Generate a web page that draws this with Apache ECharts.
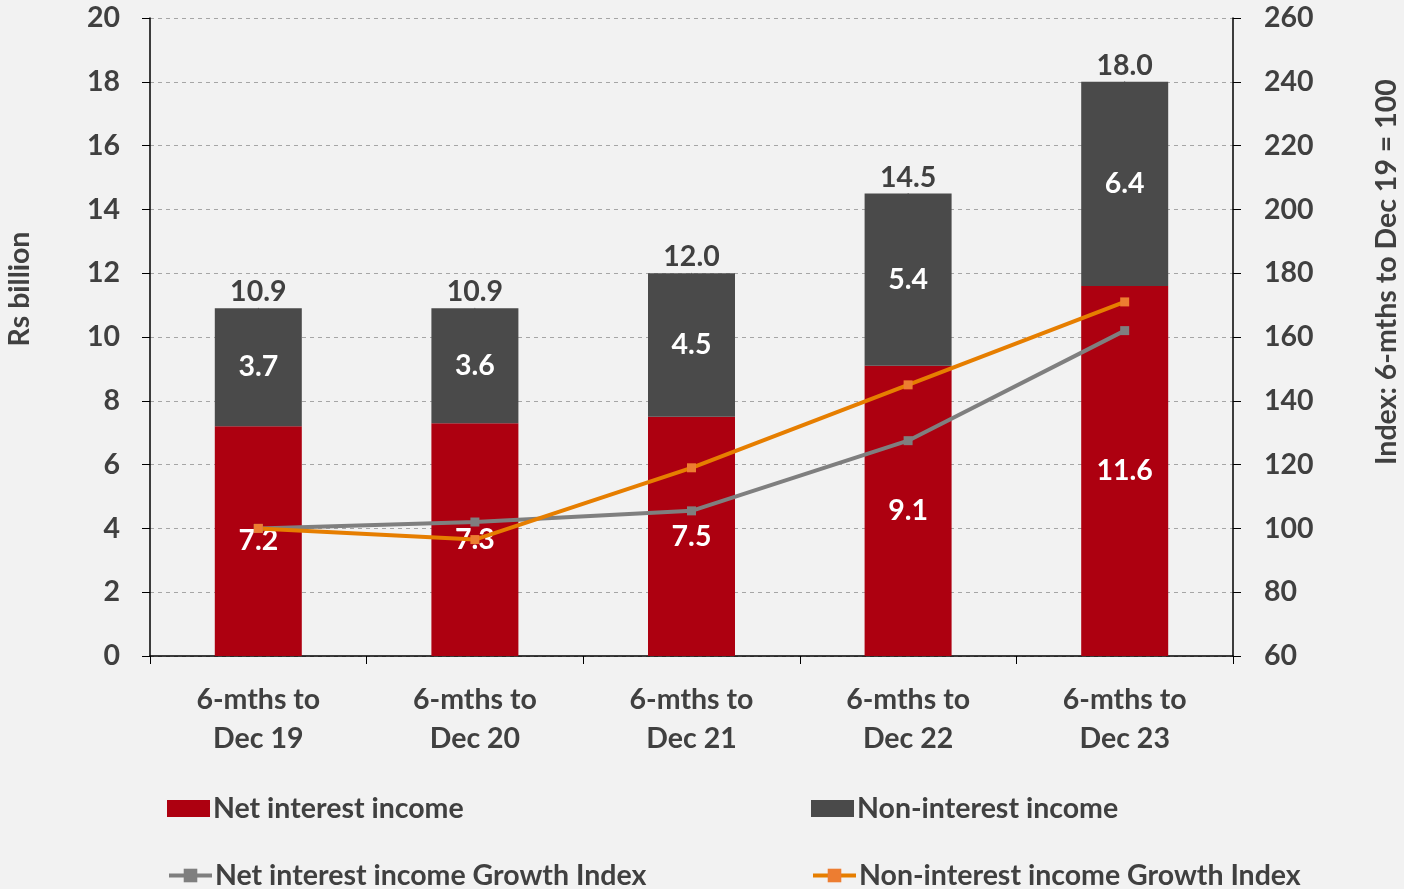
<!DOCTYPE html>
<html>
<head>
<meta charset="utf-8">
<script src="https://cdn.jsdelivr.net/npm/echarts@6/dist/echarts.min.js"></script>
<style>
  html, body { margin: 0; padding: 0; background: #f2f2f2; }
  #main { width: 1404px; height: 889px; }
</style>
</head>
<body>
<div id="main"></div>
<script>
// data
var categories = ["6-mths to\nDec 19", "6-mths to\nDec 20", "6-mths to\nDec 21", "6-mths to\nDec 22", "6-mths to\nDec 23"];
var netInterest = [7.2, 7.3, 7.5, 9.1, 11.6];
var nonInterest = [3.7, 3.6, 4.5, 5.4, 6.4];
var totals = [10.9, 10.9, 12.0, 14.5, 18.0];
var niiIndex = [100, 102, 105.5, 127.5, 162];
var nonIndex = [100, 96.5, 119, 145, 171];

var FONT = "Lato";
var FS = 28.5;
var TXT = "#404040";

var chart = echarts.init(document.getElementById("main"));

function legendAt(name, left, top, icon) {
  var l = {
    data: [name],
    left: left,
    top: top,
    padding: 0,
    itemWidth: 43,
    itemHeight: 17,
    itemGap: 0,
    selectedMode: false,
    textStyle: { fontFamily: FONT, fontWeight: "bold", fontSize: FS, color: TXT, padding: [0, 0, 0, -2] }
  };
  if (icon) l.icon = icon;
  else l.lineStyle = { width: 4 };
  return l;
}

var option = {
  backgroundColor: "#f2f2f2",
  animation: false,
  grid: { left: 150, right: 171, top: 18, bottom: 233 },
  legend: [
    legendAt("Net interest income", 167, 794, "rect"),
    legendAt("Non-interest income", 811, 794, "rect"),
    legendAt("Net interest income Growth Index", 167, 861),
    legendAt("Non-interest income Growth Index", 811, 861)
  ],
  graphic: [
    {
      type: "text", x: 20, y: 289, rotation: Math.PI / 2,
      style: { text: "Rs billion", fontFamily: FONT, fontWeight: "bold", fontSize: FS, fill: TXT, align: "center", verticalAlign: "middle" }
    },
    {
      type: "text", x: 1387, y: 272, rotation: Math.PI / 2,
      style: { text: "Index: 6-mths to Dec 19 = 100", fontFamily: FONT, fontWeight: "bold", fontSize: FS, fill: TXT, align: "center", verticalAlign: "middle" }
    }
  ],
  xAxis: {
    type: "category",
    data: categories,
    axisLine: { lineStyle: { color: "#000", width: 1.5 } },
    axisTick: { show: true, length: 8, lineStyle: { color: "#000" } },
    axisLabel: { fontFamily: FONT, fontWeight: "bold", fontSize: FS, color: TXT, lineHeight: 39, margin: 24 }
  },
  yAxis: [
    {
      type: "value", min: 0, max: 20, interval: 2,
      axisLine: { show: true, lineStyle: { color: "#000", width: 1.5 } },
      axisTick: { show: true, length: 8, lineStyle: { color: "#000" } },
      splitLine: { lineStyle: { color: "#a6a6a6", type: [4, 4] } },
      axisLabel: { fontFamily: FONT, fontWeight: "bold", fontSize: FS, color: TXT, margin: 30 }
    },
    {
      type: "value", min: 60, max: 260, interval: 20,
      axisLine: { show: true, lineStyle: { color: "#000", width: 1.5 } },
      axisTick: { show: true, length: 8, lineStyle: { color: "#000" } },
      splitLine: { show: false },
      axisLabel: { fontFamily: FONT, fontWeight: "bold", fontSize: FS, color: TXT, margin: 31 }
    }
  ],
  series: [
    {
      name: "Net interest income",
      type: "bar",
      stack: "inc",
      barWidth: 87,
      data: netInterest,
      itemStyle: { color: "#ad0010" },
      label: { show: true, position: "inside", fontFamily: FONT, fontWeight: "bold", fontSize: FS, color: "#fff" }
    },
    {
      name: "Non-interest income",
      type: "bar",
      stack: "inc",
      data: nonInterest,
      itemStyle: { color: "#4a4a4a" },
      label: { show: true, position: "inside", fontFamily: FONT, fontWeight: "bold", fontSize: FS, color: "#fff" }
    },
    {
      name: "Total",
      type: "scatter",
      data: totals,
      symbolSize: 1,
      itemStyle: { color: "#4a4a4a", opacity: 1 },
      silent: true,
      z: 1,
      label: {
        show: true, position: "top", distance: 1, opacity: 1,
        formatter: function (p) { return p.value.toFixed(1); },
        fontFamily: FONT, fontWeight: "bold", fontSize: FS, color: TXT
      }
    },
    {
      name: "Net interest income Growth Index",
      type: "line",
      yAxisIndex: 1,
      data: niiIndex,
      symbol: "rect",
      symbolSize: 9,
      lineStyle: { color: "#7f7f7f", width: 4 },
      itemStyle: { color: "#7f7f7f" },
      z: 10
    },
    {
      name: "Non-interest income Growth Index",
      type: "line",
      yAxisIndex: 1,
      data: nonIndex,
      symbol: "rect",
      symbolSize: 9,
      lineStyle: { color: "#e67e00", width: 4 },
      itemStyle: { color: "#ed7d31" },
      z: 10
    }
  ]
};

chart.setOption(option);
</script>
</body>
</html>
